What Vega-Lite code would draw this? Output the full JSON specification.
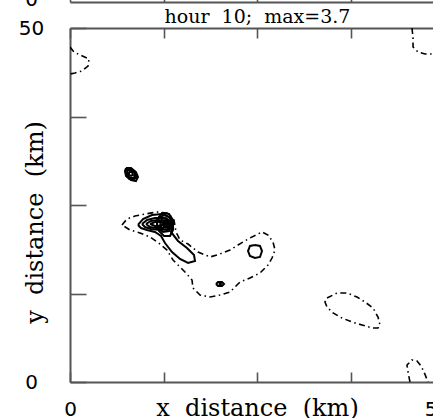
{
  "$schema": "https://vega.github.io/schema/vega-lite/v6.json",
  "autosize": "none",
  "padding": {"left": 70, "top": 28, "right": 0, "bottom": 36},
  "width": 363,
  "height": 354,
  "config": {
    "view": {"stroke": null},
    "axis": {
      "grid": false, "domainColor": "#555", "domainWidth": 2, "tickColor": "#555", "tickWidth": 1.6,
      "labelFont": "DejaVu Sans", "labelFontSize": 20, "labelColor": "#000",
      "titleFont": "DejaVu Serif", "titleFontSize": 24, "titleFontWeight": "normal", "titleColor": "#000",
      "labelOverlap": false, "labelBound": false, "labelFlush": false
    }
  },
  "datasets": {
    "contours": [
      {"c":"a","sign":"neg","i":0,"x":0,"y":47.3},
      {"c":"a","sign":"neg","i":1,"x":0.53,"y":46.61},
      {"c":"a","sign":"neg","i":2,"x":1.34,"y":46.19},
      {"c":"a","sign":"neg","i":3,"x":2.54,"y":45.62},
      {"c":"a","sign":"neg","i":4,"x":2.41,"y":44.63},
      {"c":"a","sign":"neg","i":5,"x":1.6,"y":43.93},
      {"c":"a","sign":"neg","i":6,"x":0.67,"y":43.64},
      {"c":"a","sign":"neg","i":7,"x":0,"y":43.5},
      {"c":"b","sign":"neg","i":0,"x":45.72,"y":50},
      {"c":"b","sign":"neg","i":1,"x":45.86,"y":48.59},
      {"c":"b","sign":"neg","i":2,"x":45.86,"y":47.32},
      {"c":"b","sign":"neg","i":3,"x":46.52,"y":46.61},
      {"c":"b","sign":"neg","i":4,"x":47.46,"y":46.33},
      {"c":"b","sign":"neg","i":5,"x":48.8,"y":46.33},
      {"c":"b","sign":"neg","i":6,"x":49.6,"y":46.8},
      {"c":"g","sign":"neg","i":0,"x":34.36,"y":11.86},
      {"c":"g","sign":"neg","i":1,"x":35.7,"y":12.57},
      {"c":"g","sign":"neg","i":2,"x":37.03,"y":12.57},
      {"c":"g","sign":"neg","i":3,"x":38.37,"y":12.01},
      {"c":"g","sign":"neg","i":4,"x":39.44,"y":11.3},
      {"c":"g","sign":"neg","i":5,"x":40.51,"y":10.45},
      {"c":"g","sign":"neg","i":6,"x":41.18,"y":9.18},
      {"c":"g","sign":"neg","i":7,"x":41.44,"y":8.05},
      {"c":"g","sign":"neg","i":8,"x":41.18,"y":7.63},
      {"c":"g","sign":"neg","i":9,"x":40.37,"y":7.63},
      {"c":"g","sign":"neg","i":10,"x":39.04,"y":8.05},
      {"c":"g","sign":"neg","i":11,"x":37.7,"y":8.47},
      {"c":"g","sign":"neg","i":12,"x":36.36,"y":9.04},
      {"c":"g","sign":"neg","i":13,"x":35.16,"y":9.75},
      {"c":"g","sign":"neg","i":14,"x":34.36,"y":10.59},
      {"c":"g","sign":"neg","i":15,"x":34.09,"y":11.3},
      {"c":"g","sign":"neg","i":16,"x":34.36,"y":11.86},
      {"c":"h","sign":"neg","i":0,"x":45.45,"y":0},
      {"c":"h","sign":"neg","i":1,"x":45.19,"y":1.41},
      {"c":"h","sign":"neg","i":2,"x":45.05,"y":2.4},
      {"c":"h","sign":"neg","i":3,"x":45.72,"y":3.11},
      {"c":"h","sign":"neg","i":4,"x":46.39,"y":2.97},
      {"c":"h","sign":"neg","i":5,"x":46.93,"y":2.26},
      {"c":"h","sign":"neg","i":6,"x":47.33,"y":1.41},
      {"c":"h","sign":"neg","i":7,"x":47.86,"y":0},
      {"c":"d","sign":"neg","i":0,"x":6.95,"y":22.18},
      {"c":"d","sign":"neg","i":1,"x":7.62,"y":23.02},
      {"c":"d","sign":"neg","i":2,"x":8.69,"y":23.45},
      {"c":"d","sign":"neg","i":3,"x":10.03,"y":23.73},
      {"c":"d","sign":"neg","i":4,"x":11.63,"y":24.01},
      {"c":"d","sign":"neg","i":5,"x":13.1,"y":23.87},
      {"c":"d","sign":"neg","i":6,"x":13.9,"y":22.88},
      {"c":"d","sign":"neg","i":7,"x":14.17,"y":21.19},
      {"c":"d","sign":"neg","i":8,"x":14.71,"y":20.06},
      {"c":"d","sign":"neg","i":9,"x":15.78,"y":19.49},
      {"c":"d","sign":"neg","i":10,"x":17.11,"y":18.36},
      {"c":"d","sign":"neg","i":11,"x":18.72,"y":17.66},
      {"c":"d","sign":"neg","i":12,"x":20.05,"y":18.08},
      {"c":"d","sign":"neg","i":13,"x":21.39,"y":18.64},
      {"c":"d","sign":"neg","i":14,"x":22.46,"y":19.35},
      {"c":"d","sign":"neg","i":15,"x":24.06,"y":20.34},
      {"c":"d","sign":"neg","i":16,"x":25.67,"y":21.19},
      {"c":"d","sign":"neg","i":17,"x":26.47,"y":20.76},
      {"c":"d","sign":"neg","i":18,"x":27.14,"y":19.77},
      {"c":"d","sign":"neg","i":19,"x":27.41,"y":18.64},
      {"c":"d","sign":"neg","i":20,"x":27.01,"y":17.51},
      {"c":"d","sign":"neg","i":21,"x":26.47,"y":16.53},
      {"c":"d","sign":"neg","i":22,"x":25.4,"y":15.4},
      {"c":"d","sign":"neg","i":23,"x":24.06,"y":14.69},
      {"c":"d","sign":"neg","i":24,"x":22.73,"y":14.12},
      {"c":"d","sign":"neg","i":25,"x":22.06,"y":13.42},
      {"c":"d","sign":"neg","i":26,"x":21.39,"y":12.71},
      {"c":"d","sign":"neg","i":27,"x":20.05,"y":12.29},
      {"c":"d","sign":"neg","i":28,"x":18.72,"y":12.01},
      {"c":"d","sign":"neg","i":29,"x":17.38,"y":12.29},
      {"c":"d","sign":"neg","i":30,"x":16.44,"y":13.28},
      {"c":"d","sign":"neg","i":31,"x":16.31,"y":14.41},
      {"c":"d","sign":"neg","i":32,"x":15.37,"y":15.54},
      {"c":"d","sign":"neg","i":33,"x":14.71,"y":16.24},
      {"c":"d","sign":"neg","i":34,"x":13.77,"y":17.23},
      {"c":"d","sign":"neg","i":35,"x":12.97,"y":18.64},
      {"c":"d","sign":"neg","i":36,"x":12.03,"y":19.49},
      {"c":"d","sign":"neg","i":37,"x":10.7,"y":20.48},
      {"c":"d","sign":"neg","i":38,"x":9.36,"y":21.05},
      {"c":"d","sign":"neg","i":39,"x":8.02,"y":21.47},
      {"c":"d","sign":"neg","i":40,"x":6.95,"y":22.18},
      {"c":"c1","sign":"pos","i":0,"x":7.49,"y":30.23},
      {"c":"c1","sign":"pos","i":1,"x":8.16,"y":30.23},
      {"c":"c1","sign":"pos","i":2,"x":8.82,"y":29.66},
      {"c":"c1","sign":"pos","i":3,"x":9.09,"y":28.95},
      {"c":"c1","sign":"pos","i":4,"x":8.82,"y":28.39},
      {"c":"c1","sign":"pos","i":5,"x":8.16,"y":28.53},
      {"c":"c1","sign":"pos","i":6,"x":7.49,"y":29.1},
      {"c":"c1","sign":"pos","i":7,"x":7.35,"y":29.8},
      {"c":"c1","sign":"pos","i":8,"x":7.49,"y":30.23},
      {"c":"c1b","sign":"pos","i":0,"x":7.6,"y":30.1},
      {"c":"c1b","sign":"pos","i":1,"x":8.2,"y":30.1},
      {"c":"c1b","sign":"pos","i":2,"x":8.75,"y":29.55},
      {"c":"c1b","sign":"pos","i":3,"x":8.85,"y":28.9},
      {"c":"c1b","sign":"pos","i":4,"x":8.5,"y":28.6},
      {"c":"c1b","sign":"pos","i":5,"x":7.95,"y":28.65},
      {"c":"c1b","sign":"pos","i":6,"x":7.5,"y":29.2},
      {"c":"c1b","sign":"pos","i":7,"x":7.45,"y":29.8},
      {"c":"c1b","sign":"pos","i":8,"x":7.6,"y":30.1},
      {"c":"c2","sign":"pos","i":0,"x":7.75,"y":29.94},
      {"c":"c2","sign":"pos","i":1,"x":8.29,"y":29.94},
      {"c":"c2","sign":"pos","i":2,"x":8.69,"y":29.38},
      {"c":"c2","sign":"pos","i":3,"x":8.56,"y":28.81},
      {"c":"c2","sign":"pos","i":4,"x":8.02,"y":28.81},
      {"c":"c2","sign":"pos","i":5,"x":7.62,"y":29.38},
      {"c":"c2","sign":"pos","i":6,"x":7.75,"y":29.94},
      {"c":"c3","sign":"pos","i":0,"x":7.89,"y":29.66},
      {"c":"c3","sign":"pos","i":1,"x":8.29,"y":29.66},
      {"c":"c3","sign":"pos","i":2,"x":8.42,"y":29.24},
      {"c":"c3","sign":"pos","i":3,"x":8.16,"y":29.1},
      {"c":"c3","sign":"pos","i":4,"x":7.89,"y":29.24},
      {"c":"c3","sign":"pos","i":5,"x":7.89,"y":29.66},
      {"c":"s1","sign":"pos","i":0,"x":9.09,"y":22.18},
      {"c":"s1","sign":"pos","i":1,"x":9.76,"y":23.02},
      {"c":"s1","sign":"pos","i":2,"x":10.96,"y":23.59},
      {"c":"s1","sign":"pos","i":3,"x":12.3,"y":23.73},
      {"c":"s1","sign":"pos","i":4,"x":13.24,"y":23.31},
      {"c":"s1","sign":"pos","i":5,"x":13.77,"y":22.32},
      {"c":"s1","sign":"pos","i":6,"x":13.5,"y":21.19},
      {"c":"s1","sign":"pos","i":7,"x":14.44,"y":19.92},
      {"c":"s1","sign":"pos","i":8,"x":15.64,"y":18.93},
      {"c":"s1","sign":"pos","i":9,"x":16.58,"y":17.94},
      {"c":"s1","sign":"pos","i":10,"x":16.71,"y":17.09},
      {"c":"s1","sign":"pos","i":11,"x":15.78,"y":16.81},
      {"c":"s1","sign":"pos","i":12,"x":14.71,"y":17.37},
      {"c":"s1","sign":"pos","i":13,"x":13.64,"y":18.36},
      {"c":"s1","sign":"pos","i":14,"x":12.7,"y":19.63},
      {"c":"s1","sign":"pos","i":15,"x":12.17,"y":20.62},
      {"c":"s1","sign":"pos","i":16,"x":11.36,"y":21.19},
      {"c":"s1","sign":"pos","i":17,"x":10.29,"y":21.47},
      {"c":"s1","sign":"pos","i":18,"x":9.49,"y":21.75},
      {"c":"s1","sign":"pos","i":19,"x":9.09,"y":22.18},
      {"c":"s2","sign":"pos","i":0,"x":9.63,"y":22.32},
      {"c":"s2","sign":"pos","i":1,"x":10.29,"y":22.88},
      {"c":"s2","sign":"pos","i":2,"x":11.36,"y":23.16},
      {"c":"s2","sign":"pos","i":3,"x":12.57,"y":23.16},
      {"c":"s2","sign":"pos","i":4,"x":13.24,"y":22.6},
      {"c":"s2","sign":"pos","i":5,"x":13.1,"y":21.61},
      {"c":"s2","sign":"pos","i":6,"x":12.03,"y":21.47},
      {"c":"s2","sign":"pos","i":7,"x":10.83,"y":21.61},
      {"c":"s2","sign":"pos","i":8,"x":10.03,"y":21.89},
      {"c":"s2","sign":"pos","i":9,"x":9.63,"y":22.32},
      {"c":"s3","sign":"pos","i":0,"x":10.16,"y":22.32},
      {"c":"s3","sign":"pos","i":1,"x":10.83,"y":22.74},
      {"c":"s3","sign":"pos","i":2,"x":11.76,"y":22.88},
      {"c":"s3","sign":"pos","i":3,"x":12.7,"y":22.74},
      {"c":"s3","sign":"pos","i":4,"x":12.97,"y":22.18},
      {"c":"s3","sign":"pos","i":5,"x":12.43,"y":21.75},
      {"c":"s3","sign":"pos","i":6,"x":11.5,"y":21.75},
      {"c":"s3","sign":"pos","i":7,"x":10.7,"y":21.89},
      {"c":"s3","sign":"pos","i":8,"x":10.16,"y":22.32},
      {"c":"s4","sign":"pos","i":0,"x":10.7,"y":22.32},
      {"c":"s4","sign":"pos","i":1,"x":11.36,"y":22.6},
      {"c":"s4","sign":"pos","i":2,"x":12.17,"y":22.6},
      {"c":"s4","sign":"pos","i":3,"x":12.57,"y":22.32},
      {"c":"s4","sign":"pos","i":4,"x":12.03,"y":22.03},
      {"c":"s4","sign":"pos","i":5,"x":11.36,"y":22.03},
      {"c":"s4","sign":"pos","i":6,"x":10.7,"y":22.32},
      {"c":"r8","sign":"pos","i":0,"x":11.63,"y":22.88},
      {"c":"r8","sign":"pos","i":1,"x":12.3,"y":23.87},
      {"c":"r8","sign":"pos","i":2,"x":13.24,"y":23.73},
      {"c":"r8","sign":"pos","i":3,"x":13.77,"y":22.88},
      {"c":"r8","sign":"pos","i":4,"x":13.77,"y":21.47},
      {"c":"r8","sign":"pos","i":5,"x":13.37,"y":20.62},
      {"c":"r8","sign":"pos","i":6,"x":12.57,"y":20.62},
      {"c":"r8","sign":"pos","i":7,"x":11.9,"y":21.33},
      {"c":"r8","sign":"pos","i":8,"x":11.63,"y":22.18},
      {"c":"r8","sign":"pos","i":9,"x":11.63,"y":22.88},
      {"c":"r65","sign":"pos","i":0,"x":11.63,"y":22.46},
      {"c":"r65","sign":"pos","i":1,"x":11.9,"y":23.31},
      {"c":"r65","sign":"pos","i":2,"x":12.7,"y":23.59},
      {"c":"r65","sign":"pos","i":3,"x":13.5,"y":23.16},
      {"c":"r65","sign":"pos","i":4,"x":13.64,"y":22.18},
      {"c":"r65","sign":"pos","i":5,"x":13.24,"y":21.33},
      {"c":"r65","sign":"pos","i":6,"x":12.43,"y":21.19},
      {"c":"r65","sign":"pos","i":7,"x":11.76,"y":21.75},
      {"c":"r65","sign":"pos","i":8,"x":11.63,"y":22.46},
      {"c":"r5","sign":"pos","i":0,"x":12.03,"y":22.32},
      {"c":"r5","sign":"pos","i":1,"x":12.3,"y":23.02},
      {"c":"r5","sign":"pos","i":2,"x":12.83,"y":23.16},
      {"c":"r5","sign":"pos","i":3,"x":13.37,"y":22.74},
      {"c":"r5","sign":"pos","i":4,"x":13.37,"y":21.89},
      {"c":"r5","sign":"pos","i":5,"x":12.97,"y":21.47},
      {"c":"r5","sign":"pos","i":6,"x":12.3,"y":21.61},
      {"c":"r5","sign":"pos","i":7,"x":12.03,"y":22.32},
      {"c":"r3","sign":"pos","i":0,"x":12.3,"y":22.32},
      {"c":"r3","sign":"pos","i":1,"x":12.57,"y":22.74},
      {"c":"r3","sign":"pos","i":2,"x":12.97,"y":22.74},
      {"c":"r3","sign":"pos","i":3,"x":13.1,"y":22.32},
      {"c":"r3","sign":"pos","i":4,"x":12.97,"y":21.89},
      {"c":"r3","sign":"pos","i":5,"x":12.57,"y":21.89},
      {"c":"r3","sign":"pos","i":6,"x":12.3,"y":22.32},
      {"c":"r15","sign":"pos","i":0,"x":12.57,"y":22.32},
      {"c":"r15","sign":"pos","i":1,"x":12.7,"y":22.53},
      {"c":"r15","sign":"pos","i":2,"x":12.9,"y":22.32},
      {"c":"r15","sign":"pos","i":3,"x":12.7,"y":22.1},
      {"c":"r15","sign":"pos","i":4,"x":12.57,"y":22.32},
      {"c":"e","sign":"pos","i":0,"x":24.73,"y":19.35},
      {"c":"e","sign":"pos","i":1,"x":25.4,"y":19.21},
      {"c":"e","sign":"pos","i":2,"x":25.67,"y":18.5},
      {"c":"e","sign":"pos","i":3,"x":25.4,"y":17.66},
      {"c":"e","sign":"pos","i":4,"x":24.73,"y":17.51},
      {"c":"e","sign":"pos","i":5,"x":24.06,"y":17.8},
      {"c":"e","sign":"pos","i":6,"x":23.8,"y":18.5},
      {"c":"e","sign":"pos","i":7,"x":24.06,"y":19.21},
      {"c":"e","sign":"pos","i":8,"x":24.73,"y":19.35},
      {"c":"f","sign":"pos","i":0,"x":19.52,"y":13.84},
      {"c":"f","sign":"pos","i":1,"x":19.79,"y":14.12},
      {"c":"f","sign":"pos","i":2,"x":20.32,"y":14.12},
      {"c":"f","sign":"pos","i":3,"x":20.59,"y":13.84},
      {"c":"f","sign":"pos","i":4,"x":20.32,"y":13.56},
      {"c":"f","sign":"pos","i":5,"x":19.79,"y":13.56},
      {"c":"f","sign":"pos","i":6,"x":19.52,"y":13.84},
      {"c":"f2","sign":"pos","i":0,"x":19.92,"y":13.84},
      {"c":"f2","sign":"pos","i":1,"x":20.05,"y":13.98},
      {"c":"f2","sign":"pos","i":2,"x":20.19,"y":13.84},
      {"c":"f2","sign":"pos","i":3,"x":20.05,"y":13.7},
      {"c":"f2","sign":"pos","i":4,"x":19.92,"y":13.84}
    ]
  },
  "data": {"name": "contours"},
  "layer": [
    {
      "transform": [{"filter": "datum.sign == 'pos'"}],
      "mark": {"type": "line", "color": "#000", "strokeWidth": 2, "clip": true},
      "encoding": {
        "x": {"field": "x", "type": "quantitative", "scale": {"domain": [0, 50], "nice": false, "zero": false, "range": [0, 374]},
              "axis": {"orient": "bottom", "values": [0, 12.5, 25, 37.5, 50], "labelExpr": "datum.value == 0 || datum.value == 50 ? datum.label : ''",
                       "tickSize": -10, "labelPadding": 43.5, "labelAlign": "center", "labelBaseline": "alphabetic",
                       "labelOffset": {"condition": {"test": "datum.value == 50", "value": -7}, "value": 0},
                       "title": "x\u00a0 distance\u00a0 (km)", "titleY": 33.5, "titleBaseline": "alphabetic"}},
        "y": {"field": "y", "type": "quantitative", "scale": {"domain": [0, 50], "nice": false, "zero": false},
              "axis": {"orient": "left", "values": [0, 12.5, 25, 37.5, 50], "labelExpr": "datum.value == 0 || datum.value == 50 ? datum.label : ''",
                       "tickSize": -16, "labelPadding": 55, "labelAlign": "center", "labelBaseline": "middle",
                       "title": "y\u00a0 distance\u00a0 (km)", "titleX": -35, "titleY": 194, "titleAngle": -90, "titleAlign": "center", "titleBaseline": "middle"}},
        "detail": {"field": "c"},
        "order": {"field": "i"}
      }
    },
    {
      "transform": [{"filter": "datum.sign == 'neg'"}],
      "mark": {"type": "line", "color": "#000", "strokeWidth": 1.6, "strokeDash": [6, 3.5, 1.5, 3.5], "clip": true},
      "encoding": {
        "x": {"field": "x", "type": "quantitative", "scale": {"domain": [0, 50], "nice": false, "zero": false, "range": [0, 374]},
              "axis": {"orient": "top", "values": [0, 12.5, 25, 37.5, 50], "labels": false, "tickSize": -10,
                       "title": "hour\u00a0 10;\u00a0 max=3.7", "titleFontSize": 19, "titleY": -6, "titleBaseline": "alphabetic"}},
        "y": {"field": "y", "type": "quantitative", "scale": {"domain": [0, 50], "nice": false, "zero": false}, "axis": null},
        "detail": {"field": "c"},
        "order": {"field": "i"}
      }
    },
    {
      "transform": [{"filter": "datum.sign == 'neg'"}],
      "mark": {"type": "line", "opacity": 0},
      "encoding": {
        "x": {"field": "x", "type": "quantitative", "scale": {"domain": [0, 50], "nice": false, "zero": false, "range": [0, 374]},
              "axis": {"orient": "top", "offset": 26, "values": [0, 12.5, 25, 37.5, 50], "labels": false, "tickSize": 10, "title": null}},
        "y": {"field": "y", "type": "quantitative", "scale": {"domain": [0, 50], "nice": false, "zero": false},
              "axis": {"orient": "left", "labels": false, "ticks": false, "domain": false,
                       "title": "0", "titleFont": "DejaVu Sans", "titleFontSize": 20, "titleAngle": 0, "titleX": -39, "titleY": -23,
                       "titleAlign": "center", "titleBaseline": "alphabetic"}},
        "detail": {"field": "c"},
        "order": {"field": "i"}
      }
    }
  ],
  "resolve": {"axis": {"x": "independent", "y": "independent"}}
}
